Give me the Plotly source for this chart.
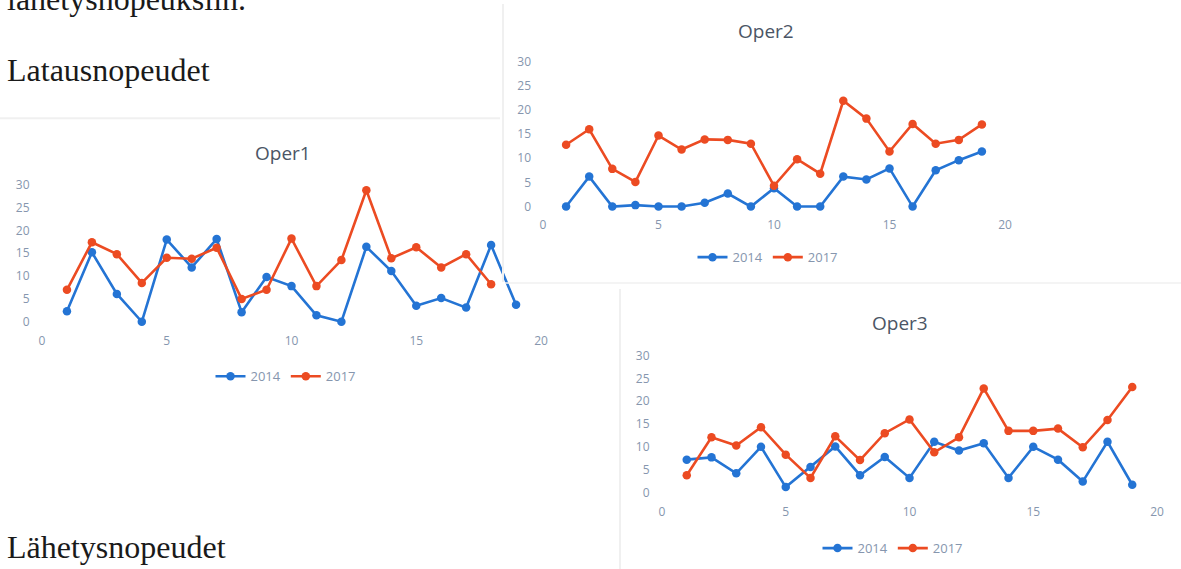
import plotly.graph_objects as go

W, H = 1181, 569

# ---------------- data ----------------
x_vals = list(range(1, 20))
series_names = ["2014", "2017"]
chart_titles = ["Oper1", "Oper2", "Oper3"]
y_ticks = [0, 5, 10, 15, 20, 25, 30]
x_ticks = [0, 5, 10, 15, 20]

oper1_2014 = [2.3, 15.2, 6.1, 0.0, 18.0, 11.9, 18.1, 2.1, 9.8, 7.8, 1.4, 0.0, 16.4, 11.1, 3.5, 5.2, 3.1, 16.8, 3.7]
oper1_2017 = [7.0, 17.4, 14.8, 8.5, 14.0, 13.8, 16.2, 5.0, 7.0, 18.2, 7.8, 13.5, 28.8, 13.9, 16.3, 11.9, 14.8, 8.2]

oper2_2014 = [0.0, 6.2, 0.0, 0.3, 0.0, 0.0, 0.8, 2.7, 0.0, 3.8, 0.0, 0.0, 6.2, 5.6, 7.9, 0.0, 7.5, 9.6, 11.4]
oper2_2017 = [12.8, 16.0, 7.8, 5.1, 14.7, 11.8, 13.9, 13.8, 13.0, 4.3, 9.8, 6.8, 21.9, 18.2, 11.4, 17.1, 13.0, 13.8, 17.0]

oper3_2014 = [7.2, 7.7, 4.2, 10.0, 1.2, 5.6, 10.1, 3.8, 7.8, 3.2, 11.1, 9.2, 10.8, 3.2, 10.0, 7.2, 2.4, 11.1, 1.7]
oper3_2017 = [3.8, 12.1, 10.3, 14.3, 8.3, 3.2, 12.3, 7.1, 13.0, 16.0, 8.8, 12.1, 22.8, 13.5, 13.5, 14.0, 9.9, 15.9, 23.1]

page_texts = ["lähetysnopeuksiin.", "Latausnopeudet", "Lähetysnopeudet"]

# ---------------- styling ----------------
BLUE = "#2474d4"
ORANGE = "#ec4b22"
TICK_COLOR = "#8696ae"
TITLE_COLOR = "#4b5565"
TICK_FONT = dict(family="Open Sans", size=12, color=TICK_COLOR)

fig = go.Figure()

# chart placement in page pixels: (x of 0, x of 20, y of 0, y of 30, title pos, legend pos)
charts = [
    dict(x0=42, x20=541, y0=320, y30=182, ylo=-2.2, title=(283, 150), legend=(286, 375)),
    dict(x0=543, x20=1005, y0=204, y30=58, ylo=-1.9, title=(766, 27), legend=(768, 255)),
    dict(x0=662, x20=1157, y0=492, y30=354, ylo=-2.2, title=(900, 321), legend=(893, 548)),
]
data = [(oper1_2014, oper1_2017), (oper2_2014, oper2_2017), (oper3_2014, oper3_2017)]
colors = [BLUE, ORANGE]

annotations = []
for i, (c, (s14, s17)) in enumerate(zip(charts, data)):
    n = i + 1
    xa = "x" if n == 1 else f"x{n}"
    ya = "y" if n == 1 else f"y{n}"
    lg = "legend" if n == 1 else f"legend{n}"
    for name, vals, col in zip(series_names, (s14, s17), colors):
        fig.add_trace(go.Scatter(
            x=x_vals[:len(vals)], y=vals, name=name, mode="lines+markers",
            line=dict(color=col, width=2.6), marker=dict(color=col, size=8.5),
            xaxis=xa, yaxis=ya, legend=lg, showlegend=True,
        ))
    xlo, xhi, yhi = -0.3, 20.3, 31.0
    sx = (c["x20"] - c["x0"]) / 20.0
    sy = (c["y0"] - c["y30"]) / 30.0
    left = c["x0"] + xlo * sx
    right = c["x0"] + xhi * sx
    bottom = c["y0"] - c["ylo"] * sy
    top = c["y0"] - yhi * sy
    axx = dict(domain=[left / W, right / W], range=[xlo, xhi], tickvals=x_ticks,
               showgrid=False, zeroline=False, showline=False, ticks="",
               tickfont=TICK_FONT, anchor=ya, fixedrange=True)
    axy = dict(domain=[1 - bottom / H, 1 - top / H], range=[c["ylo"], yhi], tickvals=y_ticks,
               showgrid=False, zeroline=False, showline=False, ticks="",
               tickfont=TICK_FONT, anchor=xa, fixedrange=True, ticklabelstandoff=4)
    fig.update_layout(**{("xaxis" if n == 1 else f"xaxis{n}"): axx,
                         ("yaxis" if n == 1 else f"yaxis{n}"): axy})
    lx, ly = c["legend"]
    fig.update_layout(**{lg: dict(orientation="h", x=lx / W, y=1 - ly / H, xanchor="center",
                                  yanchor="middle", font=dict(family="Open Sans", size=13, color=TICK_COLOR),
                                  bgcolor="rgba(0,0,0,0)", itemwidth=30, tracegroupgap=0)})
    tx, ty = c["title"]
    annotations.append(dict(text=chart_titles[i], x=tx / W, y=1 - ty / H, xref="paper", yref="paper",
                            xanchor="center", yanchor="middle", showarrow=False,
                            font=dict(family="Open Sans", size=19, color=TITLE_COLOR)))

# page texts (scanned document headings)
serif = dict(family="Liberation Serif", size=32, color="#1a1a1a")
for txt, py in zip(page_texts, [15, 87, 567]):
    annotations.append(dict(text=txt, x=5 / W, y=1 - py / H, xref="paper", yref="paper",
                            xanchor="left", yanchor="bottom", showarrow=False, font=serif))

# faint edges of the pasted chart images
EDGE = "#f0f0f0"
shapes = [
    dict(type="line", xref="paper", yref="paper", x0=503 / W, x1=503 / W, y0=1 - 0 / H, y1=1 - 280 / H,
         line=dict(color=EDGE, width=2)),
    dict(type="line", xref="paper", yref="paper", x0=0, x1=500 / W, y0=1 - 115 / H, y1=1 - 115 / H,
         line=dict(color=EDGE, width=2)),
    dict(type="line", xref="paper", yref="paper", x0=505 / W, x1=1181 / W, y0=1 - 281 / H, y1=1 - 281 / H,
         line=dict(color=EDGE, width=1.5)),
    dict(type="line", xref="paper", yref="paper", x0=620 / W, x1=620 / W, y0=1 - 287 / H, y1=0,
         line=dict(color=EDGE, width=2)),
]

fig.update_layout(
    width=W, height=H, margin=dict(l=0, r=0, t=0, b=0),
    paper_bgcolor="white", plot_bgcolor="rgba(0,0,0,0)",
    annotations=annotations, shapes=shapes, showlegend=True,
)

fig.write_html("out.html", config={"displayModeBar": False},
               post_script="document.body.style.margin='0px';")
